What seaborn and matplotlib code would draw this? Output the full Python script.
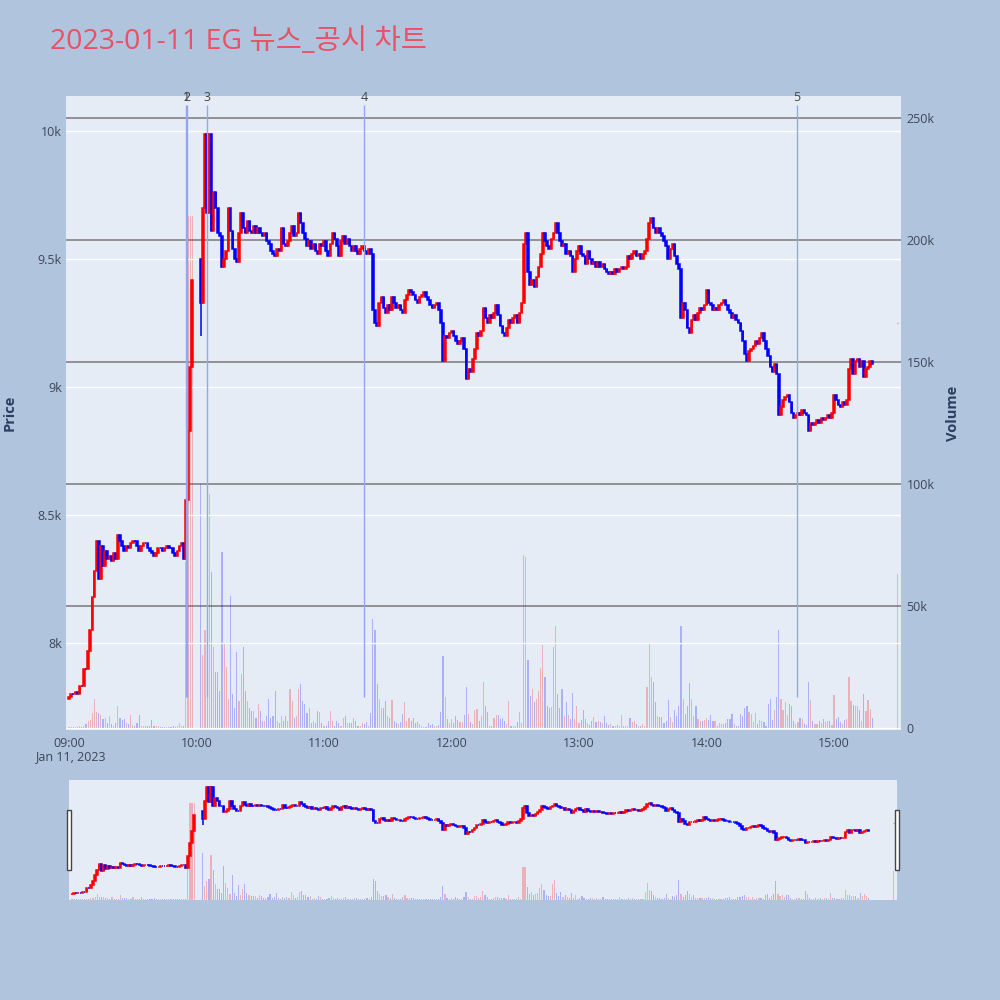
import numpy as np
import pandas as pd
import matplotlib
matplotlib.use("Agg")
import matplotlib.pyplot as plt
import seaborn as sns
from matplotlib.patches import Rectangle

nan = float("nan")

# ---------------- data (1-minute bars, close prices) ----------------
close_09 = [7790, 7800, 7800, 7810, 7800, 7830, 7830, 7900, 7900, 7970,
            8050, 8180, 8280, 8400, 8250, 8380, 8300, 8360, 8330, 8340,
            8320, 8350, 8330, 8420, 8400, 8380, 8360, 8380, 8370, 8390,
            8400, 8400, 8380, 8360, 8380, 8390, 8390, 8370, 8360, 8350,
            8340, 8350, 8370, 8370, 8360, 8370, 8380, 8370, 8370, 8350,
            8340, 8360, 8380, 8390, 8330, 8560, 8830, 9080, 9420, nan]
close_10 = [nan, nan, 9330, 9700, 9990, 9680, 9990, 9610, 9760, 9700,
            9600, 9590, 9470, 9500, 9530, 9700, 9610, 9540, 9500, 9490,
            9600, 9680, 9620, 9600, 9650, 9610, 9600, 9630, 9600, 9620,
            9600, 9590, 9600, 9570, 9560, 9530, 9520, 9510, 9540, 9530,
            9620, 9560, 9550, 9570, 9600, 9630, 9590, 9600, 9680, 9640,
            9600, 9580, 9550, 9570, 9540, 9560, 9530, 9520, 9560, 9550]
close_11 = [9570, 9530, 9510, 9560, 9600, 9580, 9550, 9510, 9570, 9590,
            9560, 9580, 9550, 9530, 9550, 9530, 9520, 9540, 9550, 9530,
            9520, 9540, 9520, 9300, 9250, 9240, 9330, 9350, 9310, 9290,
            9320, 9300, 9350, 9330, 9310, 9320, 9300, 9290, 9340, 9360,
            9380, 9370, 9360, 9340, 9330, 9350, 9360, 9370, 9350, 9340,
            9320, 9310, 9320, 9330, 9300, 9250, 9100, 9200, 9190, 9210]
close_12 = [9220, 9200, 9180, 9170, 9180, 9190, 9150, 9030, 9070, 9060,
            9110, 9150, 9210, 9200, 9220, 9310, 9270, 9250, 9280, 9270,
            9290, 9320, 9280, 9240, 9210, 9200, 9230, 9260, 9250, 9270,
            9280, 9250, 9290, 9330, 9560, 9600, 9450, 9400, 9420, 9390,
            9430, 9470, 9520, 9600, 9570, 9550, 9540, 9580, 9600, 9640,
            9600, 9570, 9550, 9560, 9520, 9530, 9510, 9450, 9500, 9530]
close_13 = [9550, 9520, 9510, 9480, 9530, 9500, 9480, 9490, 9470, 9490,
            9470, 9480, 9460, 9450, 9440, 9450, 9440, 9460, 9450, 9460,
            9470, 9460, 9470, 9510, 9500, 9520, 9530, 9510, 9520, 9500,
            9520, 9530, 9580, 9640, 9660, 9620, 9600, 9620, 9600, 9590,
            9570, 9550, 9500, 9540, 9560, 9510, 9480, 9460, 9270, 9330,
            9300, 9230, 9210, 9260, 9280, 9260, 9290, 9310, 9300, 9320]
close_14 = [9380, 9330, 9320, 9300, 9310, 9300, 9320, 9330, 9340, 9320,
            9300, 9290, 9270, 9280, 9260, 9250, 9220, 9180, 9130, 9100,
            9140, 9150, 9160, 9180, 9170, 9190, 9210, 9180, 9150, 9120,
            9080, 9060, 9090, 9050, 8890, 8920, 8950, 8960, 8970, 8940,
            8900, 8880, 8890, 8900, 8890, 8910, 8900, 8890, 8830, 8860,
            8850, 8860, 8870, 8860, 8880, 8870, 8880, 8890, 8880, 8900]
close_15 = [8970, 8950, 8930, 8920, 8940, 8930, 8950, 9070, 9110, 9050,
            9100, 9110, 9080, 9100, 9040, 9070, 9080, 9100, 9090, nan]

# volume in thousands of shares
vol_09 = [0.5, 0.3, 0.5, 0.3, 0.5, 1, 0.5, 1, 1.5, 3,
          3.4, 6, 12, 6.6, 6, 5.5, 3.7, 4, 2, 5,
          1.5, 1, 2, 9, 4, 3.4, 3.7, 2, 1.7, 5.5,
          1.4, 0.7, 2, 5.5, 1, 0.7, 1, 0.7, 1, 3.4,
          1, 1, 0.7, 0.5, 0.5, 0.3, 0.5, 0.3, 0.5, 0.7,
          0.4, 0.7, 2.2, 0.8, 1, 68, 210, 210, 210, 0]
vol_10 = [0, 0, 100, 30, 40, 45, 96, 64, 33, 23,
          23, 15, 72, 35, 25, 12, 54, 14, 8, 31,
          11, 22, 33, 15, 11, 8, 7, 7, 4, 10,
          7, 3, 3, 5, 12, 4, 5, 15, 3, 2,
          5, 3, 5, 3, 16, 11, 4, 5, 16, 18,
          11, 10, 6, 8, 2, 3, 2, 7, 6.5, 2]
vol_11 = [1, 1, 3, 7, 3, 1, 3, 2, 1, 4,
          5, 2, 2, 2, 4, 3, 1, 1, 2, 1.5,
          2.5, 1, 6, 44.5, 40, 18, 12, 8, 8, 11,
          5, 4, 11.6, 3, 2, 1.5, 2.3, 5.7, 10.7, 3,
          4, 3, 4, 2, 2.3, 1.6, 0.7, 0.4, 0.5, 2,
          1.4, 1.8, 1, 1, 1.4, 6.5, 29.5, 12.7, 3.7, 2]
vol_12 = [3.7, 2, 4.8, 3.4, 2.3, 2.3, 5.5, 16.7, 5.8, 2.3,
          1.8, 7.5, 7.8, 2.7, 5, 19, 9.2, 6.4, 1, 1,
          4, 5.5, 5.2, 3.7, 4, 2.7, 1.8, 11, 0.7, 0.7,
          1, 2.4, 6.6, 2, 71, 70, 28, 13, 15.8, 10.5,
          12, 15, 24.6, 34, 21, 9, 8, 8.5, 33, 42,
          14, 8, 16, 4.8, 10.5, 5.5, 3.7, 14.4, 3.7, 9]
vol_13 = [2, 3.4, 7.5, 3.7, 2, 1.4, 2.7, 4.5, 2.3, 2.7,
          2.3, 2, 5, 2, 1.4, 1.6, 1, 1, 1.4, 1,
          5.5, 1, 1, 1, 4.1, 2.3, 2.7, 1.8, 1, 1,
          1.5, 1, 17, 35, 21, 19, 10.7, 5, 4.5, 4.4,
          2, 2.7, 11.6, 4.4, 2.3, 7.5, 4.8, 9, 42, 12,
          5.8, 9, 18.5, 12, 5, 9, 3.7, 2.7, 3, 3.4]
vol_14 = [4, 3.4, 5.5, 3, 3, 1, 2, 1.8, 1.6, 2,
          3.7, 3.7, 5.6, 1.8, 1, 0.7, 5.7, 5, 8, 9,
          6.4, 5.8, 2.3, 6, 1.8, 3.2, 2.7, 2.6, 1, 10,
          12, 3.4, 7.3, 12.6, 40, 12, 7.3, 10.5, 5.5, 10,
          9, 2.7, 1.8, 2.4, 4, 3.7, 1.8, 1.4, 19, 11.6,
          3, 1.8, 1.8, 2.7, 2, 3.7, 2.3, 2.7, 3, 1.4]
vol_15 = [13.7, 3.7, 4.5, 2.3, 1.8, 3.4, 3.7, 21, 11, 9.6,
          8.9, 8.9, 7.5, 2.7, 14, 7, 11.6, 7.8, 4, 0]

first_open = 7780          # opening print of 09:00
reopen_after_halt = 9500   # first print after the volatility halt
extra_low = {62: 9200}     # visible lower wick

closing_minute = 390       # 15:30 closing auction
closing_price = 9250
closing_volume = 63        # thousand

news_labels = ["1", "2", "3", "4", "5"]
news_minutes = [55.2, 55.7, 64.8, 139.0, 342.6]

price_ticks = [8000, 8500, 9000, 9500, 10000]
price_tick_labels = ["8k", "8.5k", "9k", "9.5k", "10k"]
vol_ticks = [0, 50000, 100000, 150000, 200000, 250000]
vol_tick_labels = ["0", "50k", "100k", "150k", "200k", "250k"]
hour_labels = ["09:00", "10:00", "11:00", "12:00", "13:00", "14:00", "15:00"]

title = "2023-01-11 EG 뉴스_공시 차트"

# ---------------- build table ----------------
close = np.array(close_09 + close_10 + close_11 + close_12 + close_13 + close_14 + close_15, dtype=float)
vol = np.array(vol_09 + vol_10 + vol_11 + vol_12 + vol_13 + vol_14 + vol_15, dtype=float) * 1000
minute = np.arange(len(close), dtype=float)

opens = np.full(len(close), np.nan)
prev = None
for i, c in enumerate(close):
    if np.isnan(c):
        prev = "halt" if prev is not None else None
        continue
    if prev is None:
        opens[i] = first_open
    elif prev == "halt":
        opens[i] = reopen_after_halt
    else:
        opens[i] = prev
    prev = c

df = pd.DataFrame({"minute": minute, "open": opens, "close": close, "volume": vol})
df = df.dropna(subset=["close"]).reset_index(drop=True)
df["high"] = df[["open", "close"]].max(axis=1)
df["low"] = df[["open", "close"]].min(axis=1)
for k, v in extra_low.items():
    df.loc[df["minute"] == k, "low"] = v
df["up"] = df["close"] > df["open"]

# ---------------- style ----------------
sns.set_theme(style="white", rc={"axes.facecolor": "#e5ecf6", "figure.facecolor": "#b0c4de"})
plt.rcParams["font.family"] = ["Open Sans", "Noto Sans CJK KR", "DejaVu Sans"]

RED, BLUE = "#ff0000", "#0000ff"
VRED, VBLUE = (1, 0, 0, 0.25), (0, 0, 1, 0.25)
TXT = "#3d4756"

XLIM = (-1.4, 391.5)
PLIM = (7660, 10137)
VLIM = (-820, 259016)

fig = plt.figure(figsize=(10, 10), dpi=100)


def draw(axv, axp, lw=1.1):
    vcols = [VRED if u else VBLUE for u in df["up"]]
    axv.bar(df["minute"], df["volume"], width=0.55, color=vcols, linewidth=0, zorder=2)
    axv.bar([closing_minute], [closing_volume * 1000], width=0.55, color=[VRED], linewidth=0, zorder=2)
    cols = [RED if u else BLUE for u in df["up"]]
    axp.vlines(df["minute"], df["low"], df["high"], colors=cols, linewidth=lw, zorder=3)
    axp.bar(df["minute"], df["close"] - df["open"], bottom=df["open"], width=0.75,
            color=cols, edgecolor=cols, linewidth=lw, zorder=3)
    # closing-auction print (open = high = low = close)
    axp.hlines([closing_price], closing_minute - 0.3, closing_minute + 0.3,
               colors=["#ff6b6b"], linewidth=0.9, zorder=3)
    axv.set_xlim(*XLIM); axp.set_xlim(*XLIM)
    axv.set_ylim(*VLIM); axp.set_ylim(*PLIM)


# main chart
L, B, W, H = 0.066, 0.270, 0.835, 0.634
axv = fig.add_axes([L, B, W, H])
axp = fig.add_axes([L, B, W, H], sharex=axv)
axp.patch.set_alpha(0)
draw(axv, axp)

for s in list(axv.spines.values()) + list(axp.spines.values()):
    s.set_visible(False)

# volume axis on the right with grey grid
axv.yaxis.tick_right()
axv.set_yticks(vol_ticks)
axv.set_yticklabels(vol_tick_labels)
for t in vol_ticks[1:]:
    axv.axhline(t, color="#8a8a8a", linewidth=1.3, zorder=1)
axv.axhline(0, color="white", linewidth=1.0, zorder=1)
axv.tick_params(axis="y", length=0, pad=4, labelsize=9, labelcolor=TXT)

# price axis on the left with white grid
axp.set_yticks(price_ticks)
axp.set_yticklabels(price_tick_labels)
for t in price_ticks:
    axp.axhline(t, color="white", linewidth=1.0, zorder=1)
axp.tick_params(axis="y", length=0, pad=3, labelsize=9, labelcolor=TXT, left=True, labelleft=True)
axp.yaxis.tick_left()

axv.set_xticks([60 * k for k in range(len(hour_labels))])
axv.set_xticklabels(hour_labels)
axv.tick_params(axis="x", length=0, pad=5, labelsize=9, labelcolor=TXT)
plt.setp(axp.get_xticklabels(), visible=False)
axp.tick_params(axis="x", length=0)
axv.grid(False); axp.grid(False)

# news markers
axp.vlines(news_minutes, 7790, 10100, colors="#93a6ee", linewidth=1.0, zorder=4)
for lab, m in zip(news_labels, news_minutes):
    axp.text(m, 10133, lab, ha="center", va="center", fontsize=9, color="#444444",
             clip_on=False, zorder=5)

fig.text(0.070, 0.243, "Jan 11, 2023", ha="center", va="center", fontsize=9, color=TXT)
fig.text(0.010, 0.587, "Price", rotation=90, ha="center", va="center", fontsize=10.5,
         fontweight="bold", color="#2a3f5f")
fig.text(0.953, 0.587, "Volume", rotation=90, ha="center", va="center", fontsize=10.5,
         fontweight="bold", color="#2a3f5f")
fig.text(0.050, 0.958, title, ha="left", va="center", fontsize=20.5, color="#ea5166")

# range slider
sL, sB, sW, sH = 0.069, 0.100, 0.828, 0.120
sv = fig.add_axes([sL, sB, sW, sH])
sp = fig.add_axes([sL, sB, sW, sH], sharex=sv)
sp.patch.set_alpha(0)
draw(sv, sp, lw=1.1)
for a in (sv, sp):
    a.set_xticks([]); a.set_yticks([])
    for s in a.spines.values():
        s.set_visible(False)

for hx in (0.0667, 0.8953):
    fig.patches.append(Rectangle((hx, 0.130), 0.004, 0.060, transform=fig.transFigure,
                                 facecolor="white", edgecolor="#444444", linewidth=1.0))

fig.savefig("out.png", dpi=100, facecolor=fig.get_facecolor())
